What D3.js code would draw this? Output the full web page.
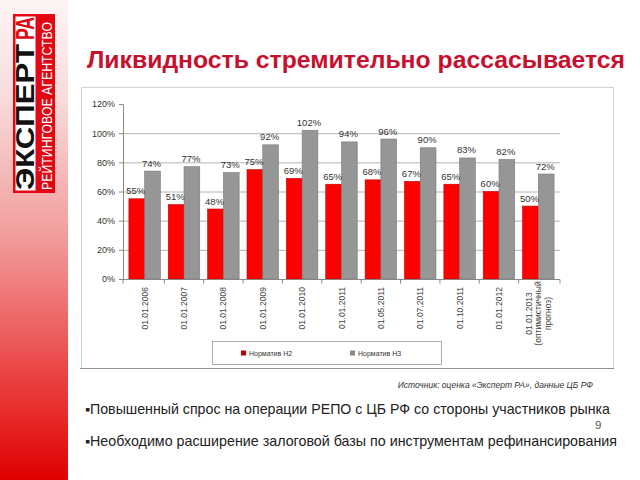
<!DOCTYPE html>
<html><head><meta charset="utf-8">
<script src="https://cdn.jsdelivr.net/npm/d3@7"></script>
<style>
html,body{margin:0;padding:0;background:#fff;}
svg{display:block;font-family:"Liberation Sans",Arial,sans-serif;}
</style></head>
<body>
<svg id="c" width="640" height="480"></svg>
<script>
const categories = ["01.01.2006","01.01.2007","01.01.2008","01.01.2009","01.01.2010","01.01.2011","01.05.2011","01.07.2011","01.10.2011","01.01.2012","01.01.2013 (оптимистичный прогноз)"];
const categoryLines = [["01.01.2006"],["01.01.2007"],["01.01.2008"],["01.01.2009"],["01.01.2010"],["01.01.2011"],["01.05.2011"],["01.07.2011"],["01.10.2011"],["01.01.2012"],["01.01.2013","(оптимистичный","прогноз)"]];
const seriesNames = ["Норматив Н2","Норматив Н3"];
const h2 = [55,51,48,75,69,65,68,67,65,60,50];
const h3 = [74,77,73,92,102,94,96,90,83,82,72];
const yTicks = [0,20,40,60,80,100,120];
const gridTicks = [20,40,60,80,100];
const title = "Ликвидность стремительно рассасывается";
const source = "Источник: оценка «Эксперт РА», данные ЦБ РФ";
const bullets = ["▪Повышенный спрос на операции РЕПО с ЦБ РФ со стороны участников рынка","▪Необходимо расширение залоговой базы по инструментам рефинансирования"];

const svg = d3.select("#c");
const defs = svg.append("defs");
const lg = defs.append("linearGradient").attr("id","strip").attr("x1",0).attr("y1",0).attr("x2",0).attr("y2",1);
[[0,"#fdf4f4"],[0.2,"#f9dcdc"],[0.5,"#f29a9a"],[0.75,"#eb4d4d"],[1,"#e00000"]].forEach(s=>lg.append("stop").attr("offset",s[0]).attr("stop-color",s[1]));
svg.append("rect").attr("x",0).attr("y",0).attr("width",68).attr("height",480).attr("fill","url(#strip)");

// logo
svg.append("rect").attr("x",13).attr("y",14).attr("width",42).attr("height",179).attr("fill","#e30613");
svg.append("rect").attr("x",15.5).attr("y",16.5).attr("width",20).attr("height",174).attr("fill","#fff");
svg.append("text").attr("transform","translate(34,190) rotate(-90)")
  .attr("font-size",26).attr("font-weight","bold").attr("fill","#111")
  .attr("textLength",146).attr("lengthAdjust","spacingAndGlyphs").text("ЭКСПЕРТ");
svg.append("text").attr("transform","translate(34,40) rotate(-90)")
  .attr("font-size",26).attr("font-weight","bold").attr("fill","#e30613")
  .attr("textLength",23).attr("lengthAdjust","spacingAndGlyphs").text("РА");
svg.append("text").attr("transform","translate(51.5,190) rotate(-90)")
  .attr("font-size",14).attr("fill","#fff")
  .attr("textLength",168).attr("lengthAdjust","spacingAndGlyphs").text("РЕЙТИНГОВОЕ АГЕНТСТВО");

// title
svg.append("text").attr("x",87).attr("y",68).attr("font-size",24).attr("font-weight","bold")
  .attr("fill","#c8102e").attr("textLength",538).attr("lengthAdjust","spacingAndGlyphs").text(title);

// chart frame
svg.append("rect").attr("x",81.5).attr("y",87.5).attr("width",532).attr("height",281).attr("fill","#fff").attr("stroke","#d4d4d4");
svg.append("line").attr("x1",80).attr("x2",614).attr("y1",368.5).attr("y2",368.5).attr("stroke","#909090");

const x0 = d3.scaleBand().domain(categories).range([123,560]).paddingInner(0.2).paddingOuter(0.15);
const x1 = d3.scaleBand().domain(seriesNames).range([0,x0.bandwidth()]);
const y = d3.scaleLinear().domain([0,120]).range([279,104]);

// grid
const grid = svg.append("g").attr("transform","translate(123,0)")
  .call(d3.axisLeft(y).tickValues(gridTicks).tickSize(-437).tickFormat(""));
grid.select(".domain").remove();
grid.selectAll("line").attr("stroke","#b4b4b4");

const colors = {"Норматив Н2":"#ff0000","Норматив Н3":"#969696"};
const strokes = {"Норматив Н2":"#c00000","Норматив Н3":"#7a7a7a"};
const data = categories.map((c,i)=>({c, vals:[{s:seriesNames[0],v:h2[i]},{s:seriesNames[1],v:h3[i]}]}));
const groups = svg.append("g").selectAll("g").data(data).join("g").attr("transform",d=>`translate(${x0(d.c)},0)`);
groups.selectAll("rect").data(d=>d.vals).join("rect")
  .attr("x",d=>x1(d.s)).attr("width",x1.bandwidth()).attr("y",d=>y(d.v)).attr("height",d=>y(0)-y(d.v))
  .attr("fill",d=>colors[d.s]).attr("stroke",d=>strokes[d.s]).attr("stroke-width",0.6);
groups.selectAll("text").data(d=>d.vals).join("text")
  .attr("x",d=>x1(d.s)+x1.bandwidth()/2-1).attr("y",d=>y(d.v)-4.5)
  .attr("text-anchor","middle").attr("font-size",9.5).attr("fill","#333").text(d=>d.v+"%");

// y axis
const ya = svg.append("g").attr("transform","translate(123,0)")
  .call(d3.axisLeft(y).tickValues(yTicks).tickSize(4).tickPadding(4).tickFormat(d=>d+"%"));
ya.select(".domain").attr("stroke","#888");
ya.selectAll("line").attr("stroke","#888");
ya.selectAll("text").attr("font-size",9).attr("fill","#333").attr("font-family","Liberation Sans, Arial, sans-serif");

// x axis
svg.append("line").attr("x1",123).attr("x2",560).attr("y1",279.5).attr("y2",279.5).attr("stroke","#888");
const bounds = categories.map(c=>x0(c)-x0.step()*x0.paddingInner()/2).concat([560]);
bounds[0]=123;
svg.append("g").selectAll("line").data(bounds).join("line")
  .attr("x1",d=>d).attr("x2",d=>d).attr("y1",279.5).attr("y2",283.5).attr("stroke","#888");
const xl = svg.append("g").selectAll("text").data(categoryLines).join("text")
  .attr("font-size",8.5).attr("fill","#444")
  .attr("transform",(d,i)=>{
    const cx = x0(categories[i])+x0.bandwidth()/2;
    if(d.length===1) return `translate(${cx+3},287) rotate(-90)`;
    return `translate(${cx-6.5},313.5) rotate(-90)`;
  })
  .attr("text-anchor",d=>d.length===1?"end":"middle");
xl.selectAll("tspan").data(d=>d).join("tspan").attr("x",0).attr("dy",(d,i)=>i===0?0:9.5).text(d=>d);

// legend
svg.append("rect").attr("x",212.5).attr("y",341.5).attr("width",229).attr("height",23).attr("fill","#fff").attr("stroke","#9a9a9a").attr("stroke-width",0.8);
const legX = [241,350];
const leg = svg.append("g").selectAll("g").data(seriesNames).join("g").attr("transform",(d,i)=>`translate(${legX[i]},353)`);
leg.append("rect").attr("x",0).attr("y",-2.5).attr("width",5).attr("height",5).attr("fill",d=>d===seriesNames[0]?"#c00000":"#888");
leg.append("text").attr("x",8).attr("y",2.5).attr("font-size",7).attr("fill","#333").text(d=>d);

// source
svg.append("text").attr("x",593).attr("y",388).attr("text-anchor","end").attr("font-size",8.5)
  .attr("font-style","italic").attr("fill","#333").text(source);

// bullets
const bulletEnds = [610,617];
svg.selectAll("text.b").data(bullets).join("text").attr("class","b")
  .attr("x",85).attr("y",(d,i)=>414+i*32).attr("font-size",14.3).attr("fill","#222")
  .attr("textLength",(d,i)=>bulletEnds[i]-85).attr("lengthAdjust","spacingAndGlyphs").text(d=>d);
svg.append("text").attr("x",595).attr("y",429).attr("font-size",11.5).attr("fill","#555").text("9");
</script>
</body></html>
